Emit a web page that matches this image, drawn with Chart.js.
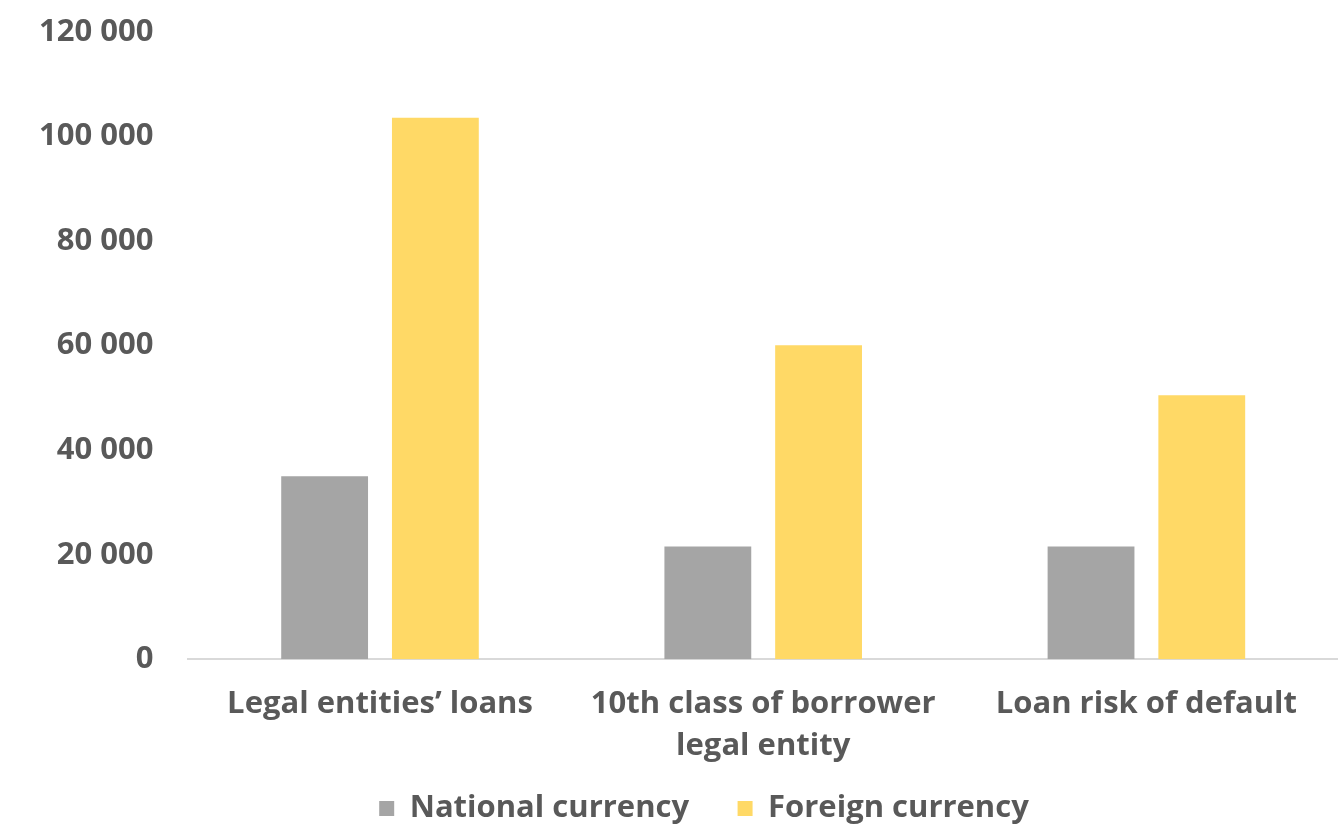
<!DOCTYPE html>
<html>
<head>
<meta charset="utf-8">
<script src="https://cdn.jsdelivr.net/npm/chart.js@4.4.0/dist/chart.umd.min.js"></script>
<style>
  html, body { margin: 0; padding: 0; background: #fff; }
  #wrap { width: 1338px; height: 829px; }
</style>
</head>
<body>
<div id="wrap"><canvas id="bar-chart" width="1338" height="829"></canvas></div>
<script>
const categories = [
  'Legal entities’ loans',
  ['10th class of borrower', 'legal entity'],
  'Loan risk of default'
];
const national = [35000, 21600, 21600];
const foreign = [103600, 60100, 50500];
const yTicks = [0, 20000, 40000, 60000, 80000, 100000, 120000];

var ctx = document.getElementById('bar-chart');
const textColor = '#595959';
const family = 'Open Sans';

// nudge the legend a little to the right, like the original
const legendShift = {
  id: 'legendShift',
  afterLayout: function(chart) {
    chart.legend.left += 33;
    chart.legend.right += 33;
  }
};

new Chart(ctx, {
  type: 'bar',
  data: {
    labels: categories,
    datasets: [{
      label: 'National currency',
      data: national,
      backgroundColor: '#A5A5A5',
      categoryPercentage: 0.578,
      barPercentage: 0.784
    }, {
      label: 'Foreign currency',
      data: foreign,
      backgroundColor: '#FFD966',
      categoryPercentage: 0.578,
      barPercentage: 0.784
    }]
  },
  options: {
    responsive: false,
    animation: false,
    layout: { padding: { left: 4, right: 0, top: 0, bottom: -5 } },
    plugins: {
      tooltip: { enabled: false },
      legend: {
        position: 'bottom',
        labels: {
          color: textColor,
          font: { family: family, weight: 'bold', size: 31, lineHeight: 1.2 },
          boxWidth: 15,
          boxHeight: 15,
          padding: 2,
          generateLabels: function(chart) {
            var items = Chart.defaults.plugins.legend.labels.generateLabels(chart);
            // wider gap between the two legend entries
            items[0].text = items[0].text + '\u2003\u2002';
            return items;
          }
        }
      }
    },
    scales: {
      x: {
        grid: { display: false, drawTicks: false },
        border: { color: '#D9D9D9', width: 2 },
        ticks: {
          color: textColor,
          font: { family: family, weight: 'bold', size: 31, lineHeight: 1.35 },
          padding: 24, maxRotation: 0, autoSkip: false
        }
      },
      y: {
        min: 0,
        max: 120000,
        afterBuildTicks: function(axis) {
          axis.ticks = yTicks.map(function(v) { return { value: v }; });
        },
        afterFit: function(axis) {
          axis.paddingTop = 32;
        },
        grid: { display: false, drawTicks: false },
        border: { display: false },
        ticks: {
          color: textColor,
          font: { family: family, weight: 'bold', size: 31, lineHeight: 1.0 },
          padding: 35,
          callback: function(v) {
            return String(v).replace(/\B(?=(\d{3})+(?!\d))/g, ' ');
          }
        }
      }
    }
  },
  plugins: [legendShift]
});
</script>
</body>
</html>
